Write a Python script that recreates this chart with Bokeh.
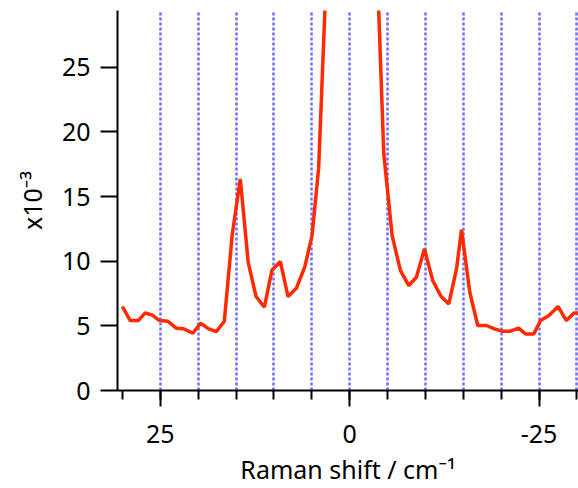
from bokeh.plotting import figure
from bokeh.models import Range1d, FixedTicker
from bokeh.embed import file_html
from bokeh.resources import INLINE

# Raman shift (cm^-1) and intensity (x10^-3)
shift_left = [30.0, 28.97, 27.9, 27.0, 26.1, 25.1, 24.0, 22.9, 21.9, 20.7, 19.7, 18.6, 17.6,
              16.55, 15.5, 14.44, 13.4, 12.36, 11.27, 10.25, 9.15, 8.14, 7.04, 5.94, 4.97, 4.1]
intensity_left = [6.5, 5.41, 5.41, 6.0, 5.85, 5.41, 5.36, 4.82, 4.77, 4.43, 5.2, 4.77, 4.56,
                  5.36, 12.1, 16.37, 9.92, 7.27, 6.44, 9.33, 9.98, 7.27, 7.91, 9.54, 11.99, 17.2]
shift_center = [3.03, 1.95, 0.88, -0.2, -1.28, -2.35, -3.43]
intensity_center = [33.0, 70.0, 160.0, 220.0, 150.0, 80.0, 36.0]
shift_right = [-4.5, -5.6, -6.7, -7.8, -8.8, -9.87, -10.96, -12.07, -13.08, -14.1, -14.76,
               -15.85, -16.9, -18.06, -19.1, -20.1, -21.2, -22.3, -23.2, -24.3, -25.2, -26.3,
               -27.5, -28.6, -29.6, -30.5]
intensity_right = [18.3, 11.99, 9.28, 8.12, 8.76, 10.96, 8.5, 7.27, 6.7, 9.41, 12.43,
                   7.6, 5.03, 5.03, 4.77, 4.59, 4.59, 4.82, 4.38, 4.38, 5.41, 5.8,
                   6.5, 5.41, 6.0, 6.0]

x_major_ticks = [25, 0, -25]
x_tick_labels = {25: "25", 0: "0", -25: "-25"}
x_minor_ticks = [30, 25, 20, 15, 10, 5, 0, -5, -10, -15, -20, -25, -30]
y_major_ticks = [0, 5, 10, 15, 20, 25]
grid_positions = [25, 20, 15, 10, 5, 0, -5, -10, -15, -20, -25, -30]

x_title = "Raman shift / cm\u207b\u00b9"
y_title = "x10\u207b\u00b3"

shift = shift_left + shift_center + shift_right
intensity = intensity_left + intensity_center + intensity_right

FONT = "Noto Sans"

p = figure(width=578, height=488,
           x_range=Range1d(30.65, -30.2), y_range=Range1d(0, 29.4),
           output_backend="svg", toolbar_location=None,
           min_border_left=117, min_border_top=10, min_border_right=0, min_border_bottom=98)
p.outline_line_color = None
p.background_fill_color = "white"
p.border_fill_color = "white"

p.line(shift, intensity, color="#ff2a00", line_width=3.5)

# grid
p.ygrid.grid_line_color = None
p.xgrid.ticker = FixedTicker(ticks=grid_positions)
p.xgrid.grid_line_color = "#6e6eff"
p.xgrid.grid_line_dash = "3 2"
p.xgrid.grid_line_width = 2.5

# x axis
xa = p.xaxis[0]
xa.ticker = FixedTicker(ticks=x_major_ticks, minor_ticks=x_minor_ticks)
xa.major_label_overrides = x_tick_labels
xa.axis_label = x_title

# y axis
ya = p.yaxis[0]
ya.ticker = FixedTicker(ticks=y_major_ticks, minor_ticks=[])
ya.axis_label = y_title

for ax in (xa, ya):
    ax.axis_line_width = 2
    ax.axis_line_color = "black"
    ax.major_tick_line_width = 2
    ax.major_tick_line_color = "black"
    ax.minor_tick_line_width = 2
    ax.minor_tick_line_color = "black"
    ax.major_tick_in = 0
    ax.minor_tick_in = 0
    ax.major_label_text_font = FONT
    ax.major_label_text_font_size = "25px"
    ax.major_label_text_color = "black"
    ax.axis_label_text_font = FONT
    ax.axis_label_text_font_size = "25px"
    ax.axis_label_text_font_style = "normal"
    ax.axis_label_text_color = "black"

xa.major_tick_out = 16
xa.minor_tick_out = 9
xa.major_label_standoff = 18
xa.axis_label_standoff = 6
ya.major_tick_out = 17
ya.minor_tick_out = 0
ya.major_label_standoff = 10
ya.axis_label_standoff = 10

open("out.html", "w").write(file_html(p, INLINE))
